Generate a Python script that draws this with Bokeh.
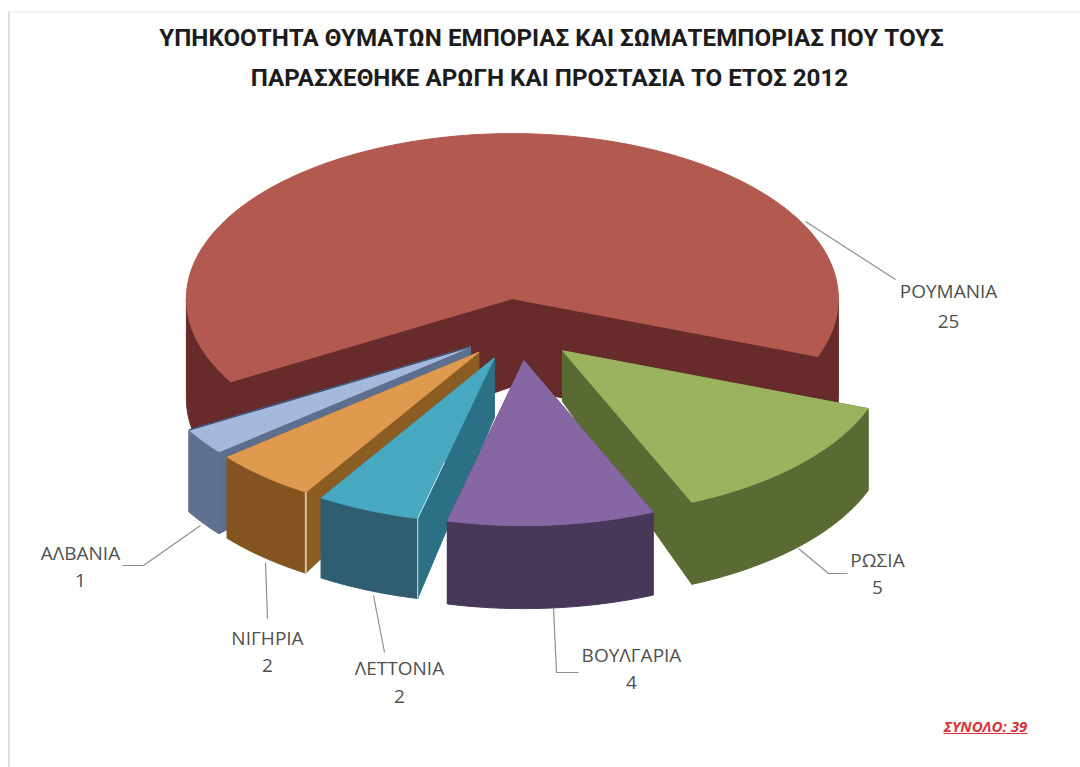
import numpy as np
from bokeh.plotting import figure
from bokeh.models import Range1d, ColumnDataSource
from bokeh.core.properties import value
from bokeh.embed import file_html
from bokeh.resources import INLINE

# --- data ---
CATEGORIES = ["ΡΩΣΙΑ", "ΒΟΥΛΓΑΡΙΑ", "ΛΕΤΤΟΝΙΑ", "ΝΙΓΗΡΙΑ", "ΑΛΒΑΝΙΑ", "ΡΟΥΜΑΝΙΑ"]
VALUES = [5, 4, 2, 2, 1, 25]
TITLE_LINES = ["ΥΠΗΚΟΟΤΗΤΑ ΘΥΜΑΤΩΝ ΕΜΠΟΡΙΑΣ ΚΑΙ ΣΩΜΑΤΕΜΠΟΡΙΑΣ ΠΟΥ ΤΟΥΣ",
               "ΠΑΡΑΣΧΕΘΗΚΕ ΑΡΩΓΗ ΚΑΙ ΠΡΟΣΤΑΣΙΑ ΤΟ ΕΤΟΣ 2012"]
TOTAL_PREFIX = "ΣΥΝΟΛΟ: "

# --- styling / layout ---
TOP = ["#9BB35E", "#8667A3", "#47A8BF", "#E09A4F", "#A4B9DC", "#B25950"]
OUTER = ["#5A6A33", "#473759", "#2F5E70", "#83541F", "#607190", "#662B2A"]
RADIAL = ["#5A6A33", "#473759", "#2B7084", "#8B5D22", "#5D6F8E", "#662B2A"]
EXPLODE = [0.170, 0.177, 0.175, 0.168, 0.163, 0.20]
RIM_DEPTH = [82, 83, 80, 81, 82, 100]
APEX_DEPTH = [51, 50, 60, 55, 55, 88]
PAINT_ORDER = [5, 4, 3, 2, 0, 1]
CX, CY, RX, RY = 518, 331, 326, 165
EXPLODE_XSTRETCH = 1.1
START_DEG = 20.5

LABEL_AT = {"ΡΟΥΜΑΝΙΑ": (948, 290, 321), "ΡΩΣΙΑ": (877, 559, 587), "ΒΟΥΛΓΑΡΙΑ": (631, 654, 682),
            "ΛΕΤΤΟΝΙΑ": (399, 667, 696), "ΝΙΓΗΡΙΑ": (267, 637, 665), "ΑΛΒΑΝΙΑ": (80, 552, 580)}
LEADERS = {"ΡΟΥΜΑΝΙΑ": ([805, 895], [221, 279]), "ΡΩΣΙΑ": ([798, 828, 847], [548, 573, 573]),
           "ΒΟΥΛΓΑΡΙΑ": ([553, 556, 578], [607, 672, 672]), "ΛΕΤΤΟΝΙΑ": ([373, 384], [595, 652]),
           "ΝΙΓΗΡΙΑ": ([265, 267], [562, 618]), "ΑΛΒΑΝΙΑ": ([200, 143, 122], [525, 565, 565])}

p = figure(width=1080, height=767, output_backend="svg", toolbar_location=None,
           x_range=Range1d(0, 1080), y_range=Range1d(767, 0), min_border=0,
           outline_line_color=None, background_fill_color="white", border_fill_color="white")
p.axis.visible = False
p.grid.visible = False

# faint page frame
p.line([8.5, 8.5], [11, 767], line_color="#DEDEDE", line_width=2)
p.line([9, 1080], [11.5, 11.5], line_color="#F1F1F1", line_width=1.5)

total = sum(VALUES)
edges = START_DEG + np.cumsum([0] + [v / total * 360 for v in VALUES])


def rim(ax, ay, a0, a1, n=60):
    t = np.radians(np.linspace(a0, a1, n))
    return ax + RX * np.cos(t), ay + RY * np.sin(t)


def visible_ranges(a0, a1):
    out = []
    for lo, hi in ((0, 180), (360, 540)):
        l, h = max(a0, lo), min(a1, hi)
        if h > l:
            out.append((l, h))
    return out


xs, ys, cols = [], [], []
seams = []
for i in PAINT_ORDER:
    a0, a1 = edges[i], edges[i + 1]
    m = np.radians((a0 + a1) / 2)
    ax = CX + EXPLODE[i] * EXPLODE_XSTRETCH * RX * np.cos(m)
    ay = CY + EXPLODE[i] * RY * np.sin(m)
    # radial faces
    for a in (a0, a1):
        rx_, ry_ = rim(ax, ay, a, a, 1)
        xs.append([ax, rx_[0], rx_[0], ax])
        ys.append([ay, ry_[0], ry_[0] + RIM_DEPTH[i], ay + APEX_DEPTH[i]])
        cols.append(RADIAL[i])
    # outer curved wall
    for l, h in visible_ranges(a0, a1):
        wx, wy = rim(ax, ay, l, h)
        xs.append(list(wx) + list(wx[::-1]))
        ys.append(list(wy) + list(wy[::-1] + RIM_DEPTH[i]))
        cols.append(OUTER[i])
    # top
    tx, ty = rim(ax, ay, a0, a1, 160)
    xs.append([ax] + list(tx))
    ys.append([ay] + list(ty))
    cols.append(TOP[i])
    # small highlights on the rim corners
    name = CATEGORIES[i]
    ex, ey = rim(ax, ay, a0, a0, 1)
    if name == "ΝΙΓΗΡΙΑ":
        seams.append(([ex[0], ex[0]], [ey[0], ey[0] + RIM_DEPTH[i]], "#D9BFA0", 2))
    if name == "ΛΕΤΤΟΝΙΑ":
        seams.append(([ex[0], ex[0]], [ey[0], ey[0] + RIM_DEPTH[i]], "#B7D0D8", 1.2))
        seams.append(([ex[0], ex[0] + 0.35 * (ax - ex[0])], [ey[0], ey[0] + 0.35 * (ay - ey[0])], "#C4E4EC", 1))
    if name == "ΑΛΒΑΝΙΑ":
        fx, fy = rim(ax, ay, a1, a1, 1)
        seams.append(([ax, fx[0]], [ay, fy[0]], "#3F5277", 1.5))

src = ColumnDataSource(dict(xs=xs, ys=ys, c=cols))
p.patches("xs", "ys", source=src, fill_color="c", line_color="c", line_width=1)
for sx, sy, c, w in seams:
    p.line(sx, sy, line_color=c, line_width=w)

# leaders and labels
for name in CATEGORIES:
    lx, ly = LEADERS[name]
    p.line(lx, ly, line_color="#8F8F8F", line_width=1.2)
for name, v in zip(CATEGORIES, VALUES):
    x, y1, y2 = LABEL_AT[name]
    p.text([x, x], [y1, y2], text=[name, str(v)], text_font=value("Open Sans"), text_font_size="19px",
           text_color="#505050", text_align="center", text_baseline="middle")

# title
p.text([551, 549], [37, 77], text=TITLE_LINES, text_font=value("Roboto"), text_font_size="24.2px",
       text_font_style="bold", text_color="#1C1C1C", text_align="center", text_baseline="middle")

# total
p.text([985], [725], text=[TOTAL_PREFIX + str(total)], text_font=value("Open Sans"), text_font_size="15px",
       text_font_style="bold italic", text_color="#D8343C", text_align="center", text_baseline="middle")
p.line([943, 1027], [733, 733], line_color="#D8343C", line_width=1)

open("out.html", "w").write(file_html(p, INLINE))
